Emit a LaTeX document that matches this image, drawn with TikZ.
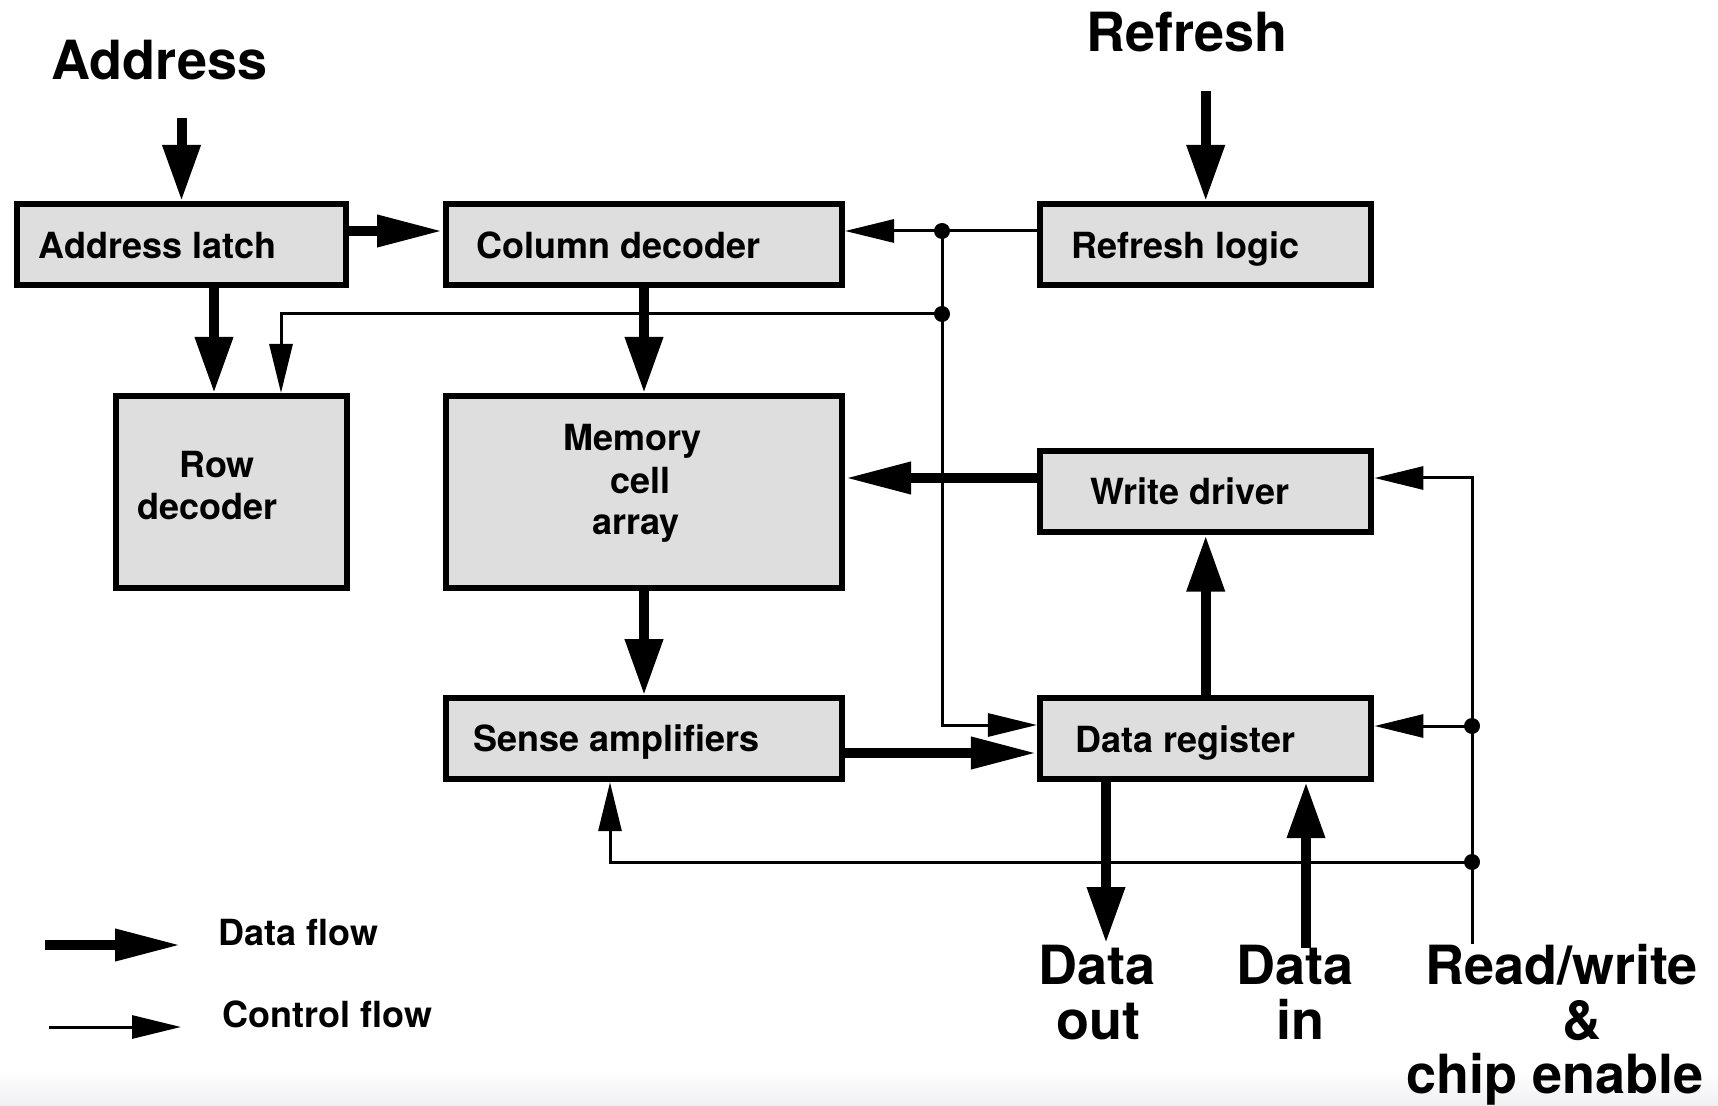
\documentclass[tikz,border=0pt]{standalone}
\usepackage{fontspec}
\setmainfont{TeX Gyre Heros}
\usetikzlibrary{arrows.meta}
\definecolor{boxfill}{RGB}{222,222,222}
\definecolor{haze}{RGB}{240,240,244}

\begin{document}
\begin{tikzpicture}[
  x=0.5pt, y=-0.5pt,
  block/.style={draw, line width=3pt, fill=boxfill, rectangle, inner sep=0pt,
                outer sep=1.5pt, minimum height=40.5pt},
  wideblock/.style={block, minimum width=198pt},
  sideblock/.style={block, minimum width=165.75pt},
  lbl/.style={font=\fontsize{18pt}{21pt}\selectfont\bfseries, anchor=base, inner sep=0pt},
  biglbl/.style={font=\fontsize{27pt}{30pt}\selectfont\bfseries, anchor=base, inner sep=0pt},
  dataH/.style={line width=5pt, -{Triangle[length=33pt,width=15pt]}},
  dataV/.style={line width=5pt, -{Triangle[length=28pt,width=18pt]}},
  ctrl/.style={line width=1.5pt, -{Triangle[length=24.5pt,width=11.5pt]}},
]
% canvas and faint band along the lower edge
\useasboundingbox (0,0) rectangle (1718,1106);
\fill[white] (0,0) rectangle (1718,1106);
\shade[top color=white, bottom color=haze] (0,1070) rectangle (1718,1106);

% blocks
\node[block, minimum width=164.5pt] (al) at (181.5,244.5) {};
\node[wideblock] (cd) at (644,244.5) {};
\node[sideblock] (rl) at (1205.7,244.5) {};
\node[block, minimum width=115.5pt, minimum height=96pt] (rd) at (231,492) {};
\node[wideblock, minimum height=96pt] (mem) at (644,492) {};
\node[sideblock] (wd) at (1205.7,492) {};
\node[wideblock] (sa) at (644,738.7) {};
\node[sideblock] (dr) at (1205.7,738.7) {};

% block labels
\node[lbl] (alT) at (157.8,259) {Address latch};
\node[lbl] (cdT) at (618.7,259) {Column decoder};
\node[lbl] (rlT) at (1185.8,259) {Refresh logic};
\node[lbl] (rdT1) at (217,477.7) {Row};
\node[lbl] (rdT2) at (207.7,520) {decoder};
\node[lbl] (memT1) at (632.5,450.7) {Memory};
\node[lbl] (memT2) at (640.8,493.3) {cell};
\node[lbl] (memT3) at (636,535) {array};
\node[lbl] (wdT) at (1189.8,505) {Write driver};
\node[lbl] (saT) at (616.4,751.7) {Sense amplifiers};
\node[lbl] (drT) at (1185.5,752.7) {Data register};

% external signals
\node[biglbl] (addrT) at (159.4,79.3) {Address};
\node[biglbl] (refT) at (1187.2,51.7) {Refresh};
\node[biglbl] (doT1) at (1097,984) {Data};
\node[biglbl] (doT2) at (1098,1039) {out};
\node[biglbl] (diT1) at (1295,984) {Data};
\node[biglbl] (diT2) at (1300,1039) {in};
\node[biglbl] (rwT1) at (1561.5,984) {Read/write};
\node[biglbl] (rwT2) at (1582,1039) {\&};
\node[biglbl] (rwT3) at (1555,1093) {chip enable};

% junctions and free ends
\coordinate (j1) at (942,231);
\coordinate (j2) at (942,314);
\coordinate (j3) at (1472,726);
\coordinate (j4) at (1472,862);
\coordinate (addrSrc) at (181.5,118);
\coordinate (refSrc) at (1205.7,91);
\coordinate (dout) at (1106,943);
\coordinate (din) at (1306,948);
\coordinate (rwSrc) at (1472,944);

% control flow
\draw[ctrl] (rl.west |- j1) -- (cd.east |- j1);
\draw[ctrl] (j1) |- (dr.west |- 0,725);
\draw[ctrl] (j2) -| (rd.north -| 281,0);
\draw[ctrl] (rwSrc) |- (wd.east |- 0,478);
\draw[ctrl] (j3) -- (dr.east |- j3);
\draw[ctrl] (j4) -| (sa.south -| 610,0);
\foreach \j in {j1,j2,j3,j4} \fill (\j) circle[radius=4pt];

% data flow
\draw[dataV] (addrSrc) -- (al.north);
\draw[dataV] (refSrc) -- (rl.north);
\draw[dataH] (al.east |- 0,231) -- (cd.west |- 0,231);
\draw[dataV] (al.south -| 214,0) -- (rd.north -| 214,0);
\draw[dataV] (cd.south) -- (mem.north);
\draw[dataV] (mem.south) -- (sa.north);
\draw[dataH] (wd.west |- 0,478) -- (mem.east |- 0,478);
\draw[dataV] (dr.north) -- (wd.south);
\draw[dataH] (sa.east |- 0,753) -- (dr.west |- 0,753);
\draw[dataV] (dr.south -| dout) -- (dout);
\draw[dataV] (din) -- (dr.south -| din);

% legend
\coordinate (lgD1) at (45,945);
\coordinate (lgD2) at (181,945);
\coordinate (lgC1) at (49,1027);
\coordinate (lgC2) at (181,1027);
\draw[dataH] (lgD1) -- (lgD2);
\draw[ctrl] (lgC1) -- (lgC2);
\node[lbl] (lgDT) at (298.7,945) {Data flow};
\node[lbl] (lgCT) at (327.5,1027) {Control flow};
\end{tikzpicture}
\end{document}
